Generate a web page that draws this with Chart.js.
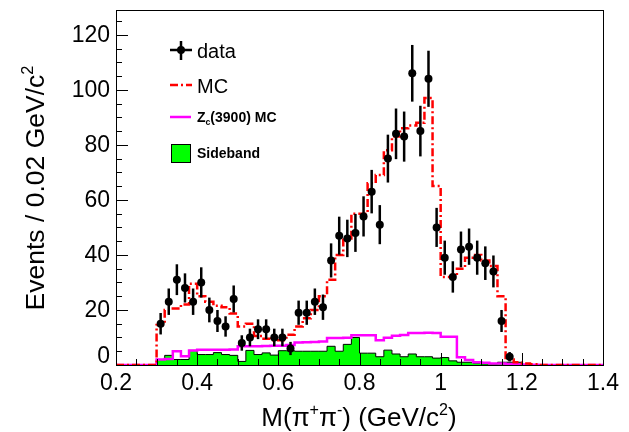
<!DOCTYPE html>
<html>
<head>
  <meta charset="UTF-8">
  <title>M(pi+pi-) distribution</title>
  <script src="https://cdn.jsdelivr.net/npm/chart.js"></script>
  <style>
    html, body {
      margin: 0;
      padding: 0;
      background: #fff;
    }
    #wrap {
      width: 629px;
      height: 432px;
    }
  </style>
</head>
<body>

  <div id="wrap"><canvas id="massChart" width="629" height="432"></canvas></div>

  <script>
    // lower edges of the 0.02 GeV/c^2 histogram bins
    const binLow = [
      0.20, 0.22, 0.24, 0.26, 0.28, 0.30, 0.32, 0.34, 0.36, 0.38,
      0.40, 0.42, 0.44, 0.46, 0.48, 0.50, 0.52, 0.54, 0.56, 0.58,
      0.60, 0.62, 0.64, 0.66, 0.68, 0.70, 0.72, 0.74, 0.76, 0.78,
      0.80, 0.82, 0.84, 0.86, 0.88, 0.90, 0.92, 0.94, 0.96, 0.98,
      1.00, 1.02, 1.04, 1.06, 1.08, 1.10, 1.12, 1.14, 1.16, 1.18,
      1.20, 1.22, 1.24, 1.26, 1.28, 1.30, 1.32, 1.34, 1.36, 1.38
    ];

    const mcCounts = [
      0, 0, 0, 0, 0, 14.5, 20, 20.5, 22, 29.5,
      25, 23, 21.5, 21, 18.7, 14, 15, 10.5, 9.5, 9,
      9, 11, 14, 17, 20, 25, 31, 40, 46, 55,
      55, 66, 69, 78, 83, 86, 87, 88, 97, 65,
      32, 32, 35, 39, 40, 38, 36, 25, 2, 1,
      0.5, 0.3, 0, 0, 0, 0, 0, 0, 0, 0
    ];

    const zcCounts = [
      0, 0, 0, 0, 0, 2, 2.2, 5, 3.2, 5.3,
      5.5, 5.5, 5.5, 5.5, 5.6, 6.8, 6.8, 6.8, 6.9, 7,
      7, 7.3, 8.2, 8.3, 8.4, 8.5, 9.8, 9.8, 9.9, 10.8,
      10.8, 10.8, 9, 9.9, 10.6, 10.9, 11.6, 11.6, 11.7, 11.6,
      10.3, 10.3, 2.8, 1.8, 1, 0.8, 0.5, 0.5, 0.4, 0.3,
      0.2, 0.1, 0, 0, 0, 0, 0, 0, 0, 0
    ];

    const sidebandCounts = [
      0, 0, 0, 0, 0, 2, 3.5, 2, 2, 5.3,
      3.8, 3.8, 4.5, 3.8, 3.5, 1.3, 5.3, 3.8, 4.4, 3.6,
      5.2, 5.2, 5, 5, 5, 5, 6.8, 5, 7.5, 10,
      4.3, 4.3, 3, 5.4, 4, 3, 4, 3, 3, 2.5,
      2.7, 1.5, 1, 1, 0.7, 0.4, 0.4, 1, 1, 1,
      0.2, 0, 0, 0, 0, 0, 0, 0, 0, 0
    ];

    // data points (bin centres) with their error bars
    const dataMass = [
      0.31, 0.33, 0.35, 0.37, 0.39, 0.41, 0.43, 0.45, 0.47, 0.49,
      0.51, 0.53, 0.55, 0.57, 0.59, 0.61, 0.63, 0.65, 0.67, 0.69,
      0.71, 0.73, 0.75, 0.77, 0.79, 0.81, 0.83, 0.85, 0.87, 0.89,
      0.91, 0.93, 0.95, 0.97, 0.99, 1.01, 1.03, 1.05, 1.07, 1.09,
      1.11, 1.13, 1.15, 1.17
    ];
    const dataCounts = [
      15, 23, 31, 28, 23, 30, 20, 16, 14, 24,
      8, 10, 13, 13, 10, 10, 6, 19, 19, 23,
      21, 38, 47, 46, 48, 54, 63, 51, 75, 84,
      83, 106, 85, 104, 50, 39, 32, 42, 43, 39,
      37, 34, 16, 3
    ];
    const dataErrors = [
      3.9, 4.8, 5.6, 5.3, 4.8, 5.5, 4.5, 4.0, 3.7, 4.9,
      2.8, 3.2, 3.6, 3.6, 3.2, 3.2, 2.4, 4.4, 4.4, 4.8,
      4.6, 6.2, 6.9, 6.8, 6.9, 7.3, 7.9, 7.1, 8.7, 9.2,
      9.1, 10.3, 9.2, 10.2, 7.1, 6.2, 5.7, 6.5, 6.6, 6.2,
      6.1, 5.8, 4.0, 1.7
    ];

    const xTickValues = [0.2, 0.4, 0.6, 0.8, 1.0, 1.2, 1.4];
    const xTickLabels = ['0.2', '0.4', '0.6', '0.8', '1', '1.2', '1.4'];
    const yTickValues = [0, 20, 40, 60, 80, 100, 120];
    const yTickLabels = ['0', '20', '40', '60', '80', '100', '120'];

    const X_MIN = 0.2, X_MAX = 1.4, Y_MAX = 129;
    const FONT = "'Liberation Sans', Arial, Helvetica, sans-serif";

    function histPoints(counts) {
      const pts = binLow.map((x, i) => ({ x: x, y: counts[i] }));
      pts.push({ x: X_MAX, y: counts[counts.length - 1] });
      return pts;
    }

    // text with super/subscripts: parts = [[text, 'sup'|'sub'|''], ...]
    function richWidth(ctx, parts, size, weight) {
      let w = 0;
      parts.forEach(p => {
        const s = p[1] ? size * 0.62 : size;
        ctx.font = weight + ' ' + s + 'px ' + FONT;
        w += ctx.measureText(p[0]).width;
      });
      return w;
    }
    function drawRich(ctx, parts, x, y, size, weight, align) {
      let cx = x;
      const w = richWidth(ctx, parts, size, weight);
      if (align === 'center') cx = x - w / 2;
      ctx.textAlign = 'left';
      ctx.textBaseline = 'alphabetic';
      parts.forEach(p => {
        const s = p[1] ? size * 0.62 : size;
        let dy = 0;
        if (p[1] === 'sup') dy = -size * 0.42;
        if (p[1] === 'sub') dy = size * 0.2;
        ctx.font = weight + ' ' + s + 'px ' + FONT;
        ctx.fillText(p[0], cx, y + dy);
        cx += ctx.measureText(p[0]).width;
      });
    }

    const rootStyle = {
      id: 'rootStyle',
      afterDatasetsDraw(chart) {
        const ctx = chart.ctx;
        const xs = chart.scales.x, ys = chart.scales.y;

        // error bars of the data points
        ctx.save();
        ctx.strokeStyle = '#000';
        ctx.lineWidth = 2.5;
        dataMass.forEach((m, i) => {
          const px = xs.getPixelForValue(m);
          const lo = ys.getPixelForValue(Math.max(0, dataCounts[i] - dataErrors[i]));
          const hi = ys.getPixelForValue(dataCounts[i] + dataErrors[i]);
          ctx.beginPath();
          ctx.moveTo(px, lo);
          ctx.lineTo(px, hi);
          ctx.stroke();
        });
        ctx.restore();
      },
      afterDraw(chart) {
        const ctx = chart.ctx;
        const xs = chart.scales.x, ys = chart.scales.y;
        const area = chart.chartArea;
        ctx.save();

        // frame
        ctx.strokeStyle = '#000';
        ctx.lineWidth = 1;
        ctx.strokeRect(Math.round(area.left) + 0.5, Math.round(area.top) + 0.5,
          Math.round(area.right - area.left), Math.round(area.bottom - area.top));

        // inward ticks, ROOT style
        ctx.beginPath();
        for (let v = 0.2; v <= 1.4001; v += 0.05) {
          const px = Math.round(xs.getPixelForValue(v)) + 0.5;
          const major = Math.abs(v / 0.2 - Math.round(v / 0.2)) < 1e-6;
          ctx.moveTo(px, area.bottom);
          ctx.lineTo(px, area.bottom - (major ? 12 : 6));
        }
        for (let v = 0; v <= Y_MAX; v += 5) {
          const py = Math.round(ys.getPixelForValue(v)) + 0.5;
          ctx.moveTo(area.left, py);
          ctx.lineTo(area.left + (v % 20 === 0 ? 12 : 6), py);
        }
        ctx.stroke();

        // tick labels
        ctx.fillStyle = '#000';
        ctx.font = '23px ' + FONT;
        ctx.textAlign = 'center';
        ctx.textBaseline = 'middle';
        xTickValues.forEach((v, i) => {
          ctx.fillText(xTickLabels[i], xs.getPixelForValue(v), area.bottom + 19);
        });
        ctx.textAlign = 'right';
        yTickValues.forEach((v, i) => {
          let py = ys.getPixelForValue(v) + 1;
          if (v === 0) py -= 9;
          ctx.fillText(yTickLabels[i], area.left - 6, py);
        });

        // axis titles
        drawRich(ctx, [['M(\u03c0', ''], ['+', 'sup'], ['\u03c0', ''], ['-', 'sup'],
          [') (GeV/c', ''], ['2', 'sup'], [')', '']], 359, 426, 26, 'normal', 'center');
        ctx.save();
        ctx.translate(44, 188);
        ctx.rotate(-Math.PI / 2);
        drawRich(ctx, [['Events / 0.02 GeV/c', ''], ['2', 'sup']], 0, 0, 26.5, 'normal', 'center');
        ctx.restore();

        // legend
        ctx.strokeStyle = '#000';
        ctx.lineWidth = 2.5;
        ctx.beginPath();
        ctx.moveTo(170, 50); ctx.lineTo(192, 50);
        ctx.moveTo(181, 41); ctx.lineTo(181, 60);
        ctx.stroke();
        ctx.beginPath();
        ctx.arc(181, 50, 4, 0, Math.PI * 2);
        ctx.fill();
        drawRich(ctx, [['data', '']], 197, 58, 20, 'normal', 'left');

        ctx.strokeStyle = '#ff0000';
        ctx.setLineDash([8, 3, 2, 3]);
        ctx.beginPath();
        ctx.moveTo(170, 85); ctx.lineTo(192, 85);
        ctx.stroke();
        ctx.setLineDash([]);
        drawRich(ctx, [['MC', '']], 197, 92.5, 20, 'normal', 'left');

        ctx.strokeStyle = '#ff00ff';
        ctx.beginPath();
        ctx.moveTo(170, 117); ctx.lineTo(191, 117);
        ctx.stroke();
        drawRich(ctx, [['Z', ''], ['c', 'sub'], ['(3900) MC', '']], 197, 122, 14, 'bold', 'left');

        ctx.fillStyle = '#00ff00';
        ctx.fillRect(171, 144, 19, 18);
        ctx.strokeStyle = '#000';
        ctx.lineWidth = 1;
        ctx.strokeRect(171.5, 144.5, 19, 18);
        ctx.fillStyle = '#000';
        drawRich(ctx, [['Sideband', '']], 197, 158, 14, 'bold', 'left');

        ctx.restore();
      }
    };

    const ctx = document.getElementById('massChart').getContext('2d');

    const chart = new Chart(ctx, {
      type: 'line',
      data: {
        datasets: [{
          label: 'Sideband',
          data: histPoints(sidebandCounts),
          stepped: true,
          borderColor: '#000000',
          borderWidth: 1,
          backgroundColor: '#00ff00',
          fill: 'origin',
          pointRadius: 0,
          order: 4
        }, {
          label: 'Zc(3900) MC',
          data: histPoints(zcCounts),
          stepped: true,
          borderColor: '#ff00ff',
          borderWidth: 2.5,
          fill: false,
          pointRadius: 0,
          order: 3
        }, {
          label: 'MC',
          data: histPoints(mcCounts),
          stepped: true,
          borderColor: '#ff0000',
          borderWidth: 2.5,
          borderDash: [8, 3, 2, 3],
          fill: false,
          pointRadius: 0,
          order: 2
        }, {
          label: 'data',
          data: dataMass.map((m, i) => ({ x: m, y: dataCounts[i] })),
          showLine: false,
          pointRadius: 4,
          pointBackgroundColor: '#000000',
          pointBorderWidth: 0,
          order: 1
        }]
      },
      options: {
        responsive: false,
        animation: false,
        layout: {
          padding: { top: 10, right: 26, left: 0, bottom: 0 }
        },
        plugins: {
          legend: { display: false },
          tooltip: { enabled: false }
        },
        scales: {
          x: {
            type: 'linear',
            min: X_MIN,
            max: X_MAX,
            grid: { display: false },
            border: { display: false },
            ticks: { display: false },
            afterFit: (s) => { s.height = 67; }
          },
          y: {
            min: 0,
            max: Y_MAX,
            grid: { display: false },
            border: { display: false },
            ticks: { display: false },
            afterFit: (s) => { s.width = 116; }
          }
        }
      },
      plugins: [rootStyle]
    });
  </script>

</body>
</html>
